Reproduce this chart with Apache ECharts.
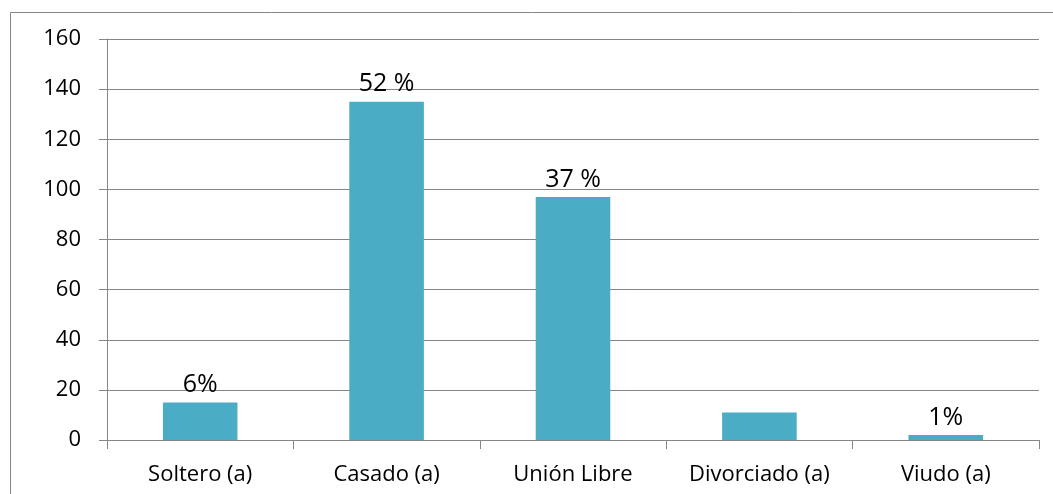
<!DOCTYPE html>
<html>
<head>
<meta charset="utf-8">
<script src="https://cdn.jsdelivr.net/npm/echarts@6/dist/echarts.min.js"></script>
<style>
  html, body { margin: 0; padding: 0; background: #fff; }
  #chart { width: 1053px; height: 494px; }
</style>
</head>
<body>
<div id="chart"></div>
<script>
  // datos del gráfico
  const categories = ['Soltero (a)', 'Casado (a)', 'Unión Libre', 'Divorciado (a)', 'Viudo (a)']
  const values = [15, 135, 97, 11, 2]
  const percentLabels = ['6%', '52 %', '37 %', '', '1%']

  const font = 'Open Sans, Liberation Sans, sans-serif'
  const gray = '#868686'

  const chart = echarts.init(document.getElementById('chart'))
  chart.setOption({
    animation: false,
    graphic: [
      {
        // marco exterior
        type: 'rect',
        shape: { x: 10.5, y: 12.5, width: 1100, height: 600 },
        style: { fill: 'none', stroke: gray, lineWidth: 1 },
        silent: true
      }
    ],
    grid: { left: 107, right: 14, top: 39, bottom: 54 },
    xAxis: {
      type: 'category',
      data: categories,
      axisLine: { lineStyle: { color: gray } },
      axisTick: { show: true, length: 9, lineStyle: { color: gray } },
      axisLabel: { color: '#000', fontSize: 22, fontFamily: font, margin: 24, interval: 0 }
    },
    yAxis: {
      type: 'value',
      min: 0,
      max: 160,
      interval: 20,
      axisLine: { show: true, lineStyle: { color: gray } },
      axisTick: { show: true, length: 8, lineStyle: { color: gray } },
      axisLabel: { color: '#000', fontSize: 22, fontFamily: font, margin: 26 },
      splitLine: { lineStyle: { color: gray, width: 1 } }
    },
    series: [
      {
        type: 'bar',
        data: values,
        barCategoryGap: '60%',
        itemStyle: { color: '#4BACC6' },
        label: {
          show: true,
          position: 'top',
          distance: 5,
          color: '#000',
          fontSize: 25,
          fontFamily: font,
          formatter: function (p) { return percentLabels[p.dataIndex] }
        }
      }
    ]
  })
</script>
</body>
</html>
